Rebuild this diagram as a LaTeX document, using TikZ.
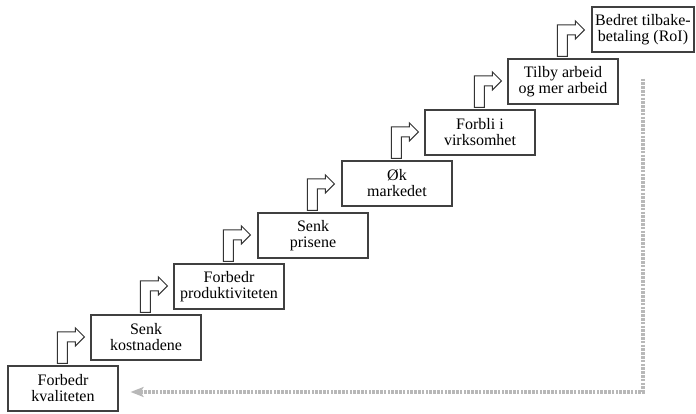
\documentclass[tikz,border=0pt]{standalone}
\usepackage{fontspec}
\setmainfont{Liberation Serif}
\usetikzlibrary{arrows.meta,calc}
\begin{document}
\begin{tikzpicture}[x=1pt,y=1pt,
  stepbox/.style={draw=black!75, line width=1.2pt, minimum width=110pt, minimum height=45pt, inner sep=2pt, align=center, font=\fontsize{16}{16}\selectfont},
  bentarrow/.style={draw=black!80, line width=1pt, fill=white, line join=miter},
  returnline/.style={draw=black!28, line width=3.2pt, dash pattern=on 2.6pt off 1.2pt, -{Stealth[length=13pt,width=10pt,inset=3pt,fill=black!28]}}
]
\useasboundingbox (0,0) rectangle (696,414);
\node[stepbox] (b1) at (63,25.5) {Forbedr\\kvaliteten};
\node[stepbox] (b2) at (146,76.5) {Senk\\kostnadene};
\node[stepbox] (b3) at (229,127.5) {Forbedr\\produktiviteten};
\node[stepbox] (b4) at (313,178.5) {Senk\\prisene};
\node[stepbox] (b5) at (397,230.5) {Øk\\markedet};
\node[stepbox] (b6) at (480,281.5) {Forbli i\\virksomhet};
\node[stepbox] (b7) at (563,332.5) {Tilby arbeid\\og mer arbeid};
\node[stepbox, minimum width=102pt] (b8) at (643,384.5) {Bedret tilbake-\\betaling (RoI)};
\foreach \lo in {b1,b2,b3,b4,b5,b6,b7}{
  \draw[bentarrow] ($(\lo.north west)+(50,2)$) -- ++(10,0) -- ++(0,21.5) -- ++(8,0) -- ++(0,-4) -- ++(9,9) -- ++(-9,9) -- ++(0,-4) -- ++(-18,0) -- cycle;
}
\draw[returnline] ($(b8.south)+(0,-26)$) |- ($(b1.east)+(12,-3.5)$);
\end{tikzpicture}
\end{document}
